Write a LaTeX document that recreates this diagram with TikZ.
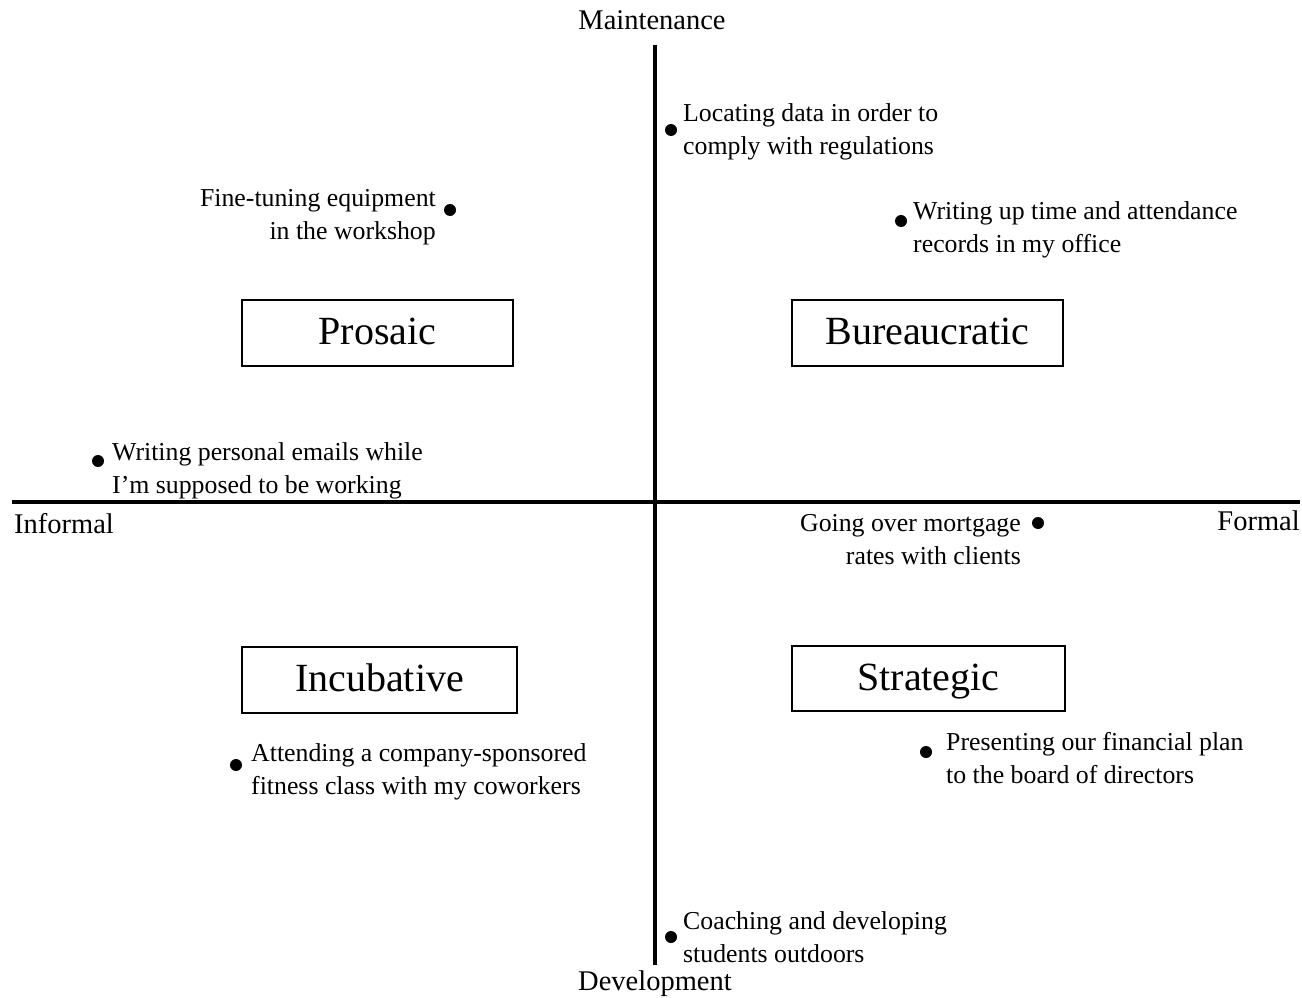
\documentclass[tikz,border=0pt]{standalone}
\usepackage{fontspec}
\setmainfont{Liberation Serif}
\begin{document}
\begin{tikzpicture}[x=1pt,y=-1pt,
 axisline/.style={line width=3.5pt},
 quadbox/.style={draw,line width=1.5pt,minimum width=271pt,minimum height=66pt,inner sep=0pt,text height=30pt,text depth=7pt,font=\fontsize{40}{46}\selectfont},
 bullet/.style={circle,fill,inner sep=0pt,minimum size=12pt},
 itemtext/.style={font=\fontsize{25.8}{32.5}\selectfont,inner sep=0pt},
 axlabel/.style={font=\fontsize{28.5}{32}\selectfont,inner sep=0pt}]
\useasboundingbox (0,0) rectangle (1302,998);
% axes
\coordinate (top) at (655,45);
\coordinate (bottom) at (655,965);
\coordinate (left) at (12,502);
\coordinate (right) at (1300,502);
\draw[axisline] (top) -- (bottom);
\draw[axisline] (left) -- (right);
% axis labels
\node[axlabel,anchor=base] (maint) at (652,30) {Maintenance};
\node[axlabel,anchor=base] (dev) at (655,990) {Development};
\node[axlabel,anchor=base west] (informal) at (14,533) {Informal};
\node[axlabel,anchor=base east] (formal) at (1300,530) {Formal};
% quadrant boxes
\node[quadbox] (prosaic) at (377.5,333) {Prosaic};
\node[quadbox] (bureau) at (927.5,333) {Bureaucratic};
\node[quadbox,minimum width=275pt] (incub) at (379.5,680) {Incubative};
\node[quadbox,minimum width=273pt,minimum height=65pt] (strat) at (928.5,678.5) {Strategic};
% items (base anchor = baseline of the last line)
\node[bullet] (d1) at (671,130) {};
\node[itemtext,anchor=base west,align=left] (t1) at (683,154) {Locating data in order to\\comply with regulations};
\node[bullet] (d2) at (450,210) {};
\node[itemtext,anchor=base east,align=right] (t2) at (436,239) {Fine-tuning equipment\\in the workshop};
\node[bullet] (d3) at (901,221) {};
\node[itemtext,anchor=base west,align=left] (t3) at (913,252) {Writing up time and attendance\\records in my office};
\node[bullet] (d4) at (98,461) {};
\node[itemtext,anchor=base west,align=left] (t4) at (112,493) {Writing personal emails while\\I’m supposed to be working};
\node[bullet] (d5) at (1038,523) {};
\node[itemtext,anchor=base east,align=right] (t5) at (1021,564) {Going over mortgage\\rates with clients};
\node[bullet] (d6) at (236,765) {};
\node[itemtext,anchor=base west,align=left] (t6) at (251,794) {Attending a company-sponsored\\fitness class with my coworkers};
\node[bullet] (d7) at (926,752) {};
\node[itemtext,anchor=base west,align=left] (t7) at (946,783) {Presenting our financial plan\\to the board of directors};
\node[bullet] (d8) at (671,937) {};
\node[itemtext,anchor=base west,align=left] (t8) at (683,962) {Coaching and developing\\students outdoors};
\end{tikzpicture}
\end{document}
